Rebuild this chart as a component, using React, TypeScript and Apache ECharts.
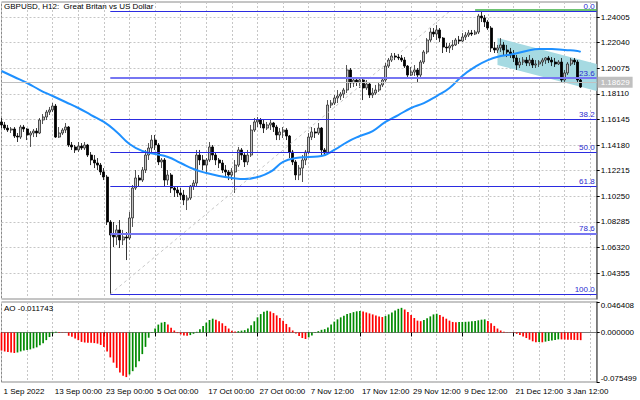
import React, { useEffect, useRef } from "react";
import * as echarts from "echarts";

const chartTitle = "GBPUSD, H12:  Great Britan vs US Dollar";
const aoTitle = "AO -0.011743";

const opens = [1.1595,1.1572,1.1548,1.1533,1.1541,1.1487,1.1479,1.1556,1.1541,1.1495,
1.1510,1.1525,1.1510,1.1610,1.1633,1.1671,1.1687,1.1717,1.1479,1.1510,
1.1533,1.1556,1.1418,1.1403,1.1380,1.1410,1.1395,1.1418,1.1341,1.1303,
1.1280,1.1264,1.1211,1.1172,1.0827,1.0727,1.0712,1.0766,1.0689,1.0712,
1.0704,1.0858,1.1088,1.1165,1.1149,1.1226,1.1341,1.1395,1.1456,1.1418,
1.1288,1.1303,1.1149,1.1188,1.1088,1.1073,1.1050,1.1034,1.0996,1.1011,
1.1103,1.1126,1.1341,1.1303,1.1264,1.1303,1.1403,1.1341,1.1303,1.1280,
1.1226,1.1211,1.1188,1.1211,1.1264,1.1380,1.1341,1.1288,1.1341,1.1533,
1.1595,1.1610,1.1579,1.1548,1.1572,1.1587,1.1556,1.1495,1.1518,1.1533,
1.1487,1.1364,1.1288,1.1188,1.1241,1.1303,1.1364,1.1479,1.1518,1.1510,
1.1548,1.1380,1.1357,1.1725,1.1740,1.1779,1.1794,1.1809,1.1840,1.1994,
1.1894,1.1917,1.1902,1.1917,1.1856,1.1886,1.1802,1.1817,1.1840,1.1879,
1.1917,1.2024,1.2070,1.2101,1.2093,1.2086,1.2070,1.2024,1.1955,1.1978,
1.1994,1.1955,1.2055,1.2132,1.2224,1.2285,1.2270,1.2301,1.2239,1.2170,
1.2163,1.2178,1.2186,1.2224,1.2216,1.2247,1.2262,1.2278,1.2270,1.2285,
1.2408,1.2393,1.2362,1.2316,1.2163,1.2147,1.2163,1.2186,1.2147,1.2132,
1.2109,1.2086,1.2032,1.2055,1.2070,1.2047,1.2070,1.2032,1.2040,1.2055,
1.2070,1.2086,1.2070,1.2055,1.2040,1.2055,1.1917,1.1971,1.2040,1.2070,
1.2055,1.1917];

const closes = [1.1572,1.1548,1.1533,1.1541,1.1487,1.1479,1.1556,1.1541,1.1495,1.1510,
1.1525,1.1510,1.1610,1.1633,1.1671,1.1687,1.1717,1.1479,1.1510,1.1533,
1.1556,1.1418,1.1403,1.1380,1.1410,1.1395,1.1418,1.1341,1.1303,1.1280,
1.1264,1.1211,1.1172,1.0827,1.0727,1.0712,1.0766,1.0689,1.0712,1.0704,
1.0858,1.1088,1.1165,1.1149,1.1226,1.1341,1.1395,1.1456,1.1418,1.1288,
1.1303,1.1149,1.1188,1.1088,1.1073,1.1050,1.1034,1.0996,1.1011,1.1103,
1.1126,1.1341,1.1303,1.1264,1.1303,1.1403,1.1341,1.1303,1.1280,1.1226,
1.1211,1.1188,1.1211,1.1264,1.1380,1.1341,1.1288,1.1341,1.1533,1.1595,
1.1610,1.1579,1.1548,1.1572,1.1587,1.1556,1.1495,1.1518,1.1533,1.1487,
1.1364,1.1288,1.1188,1.1241,1.1303,1.1364,1.1479,1.1518,1.1510,1.1548,
1.1380,1.1357,1.1725,1.1740,1.1779,1.1794,1.1809,1.1840,1.1994,1.1894,
1.1917,1.1902,1.1917,1.1856,1.1886,1.1802,1.1817,1.1840,1.1879,1.1917,
1.2024,1.2070,1.2101,1.2093,1.2086,1.2070,1.2024,1.1955,1.1978,1.1994,
1.1955,1.2055,1.2132,1.2224,1.2285,1.2270,1.2301,1.2239,1.2170,1.2163,
1.2178,1.2186,1.2224,1.2216,1.2247,1.2262,1.2278,1.2270,1.2285,1.2408,
1.2393,1.2362,1.2316,1.2163,1.2147,1.2163,1.2186,1.2147,1.2132,1.2109,
1.2086,1.2032,1.2055,1.2070,1.2047,1.2070,1.2032,1.2040,1.2055,1.2070,
1.2086,1.2070,1.2055,1.2040,1.2055,1.1917,1.1971,1.2040,1.2070,1.2055,
1.1917,1.1863];

const highs = [1.1625,1.1595,1.1572,1.1556,1.1556,1.1510,1.1572,1.1572,1.1548,1.1525,
1.1541,1.1548,1.1625,1.1656,1.1687,1.1710,1.1740,1.1733,1.1556,1.1548,
1.1587,1.1564,1.1441,1.1418,1.1441,1.1433,1.1441,1.1426,1.1364,1.1341,
1.1318,1.1280,1.1241,1.1188,1.0842,1.0827,1.0804,1.0842,1.0766,1.0750,
1.0904,1.1111,1.1226,1.1188,1.1249,1.1380,1.1433,1.1495,1.1495,1.1433,
1.1318,1.1318,1.1226,1.1203,1.1103,1.1096,1.1088,1.1073,1.1034,1.1111,
1.1149,1.1380,1.1380,1.1341,1.1318,1.1441,1.1418,1.1357,1.1318,1.1303,
1.1264,1.1226,1.1241,1.1303,1.1403,1.1395,1.1357,1.1380,1.1572,1.1625,
1.1633,1.1625,1.1610,1.1595,1.1610,1.1595,1.1572,1.1548,1.1556,1.1548,
1.1495,1.1380,1.1303,1.1264,1.1341,1.1380,1.1510,1.1556,1.1548,1.1587,
1.1556,1.1395,1.1763,1.1763,1.1802,1.1840,1.1825,1.1856,1.2032,1.2009,
1.1940,1.1932,1.1940,1.1932,1.1917,1.1894,1.1856,1.1879,1.1902,1.1940,
1.2047,1.2086,1.2124,1.2124,1.2116,1.2109,1.2093,1.2032,1.2017,1.2032,
1.2009,1.2070,1.2147,1.2239,1.2316,1.2316,1.2339,1.2316,1.2247,1.2201,
1.2201,1.2224,1.2239,1.2255,1.2278,1.2285,1.2301,1.2301,1.2301,1.2424,
1.2447,1.2416,1.2377,1.2331,1.2209,1.2186,1.2239,1.2209,1.2186,1.2163,
1.2147,1.2109,1.2086,1.2093,1.2093,1.2109,1.2086,1.2070,1.2070,1.2086,
1.2093,1.2101,1.2093,1.2086,1.2070,1.2086,1.1994,1.2055,1.2086,1.2086,
1.2070,1.1925];

const lows = [1.1548,1.1533,1.1518,1.1510,1.1472,1.1441,1.1464,1.1518,1.1456,1.1403,
1.1479,1.1479,1.1502,1.1579,1.1610,1.1648,1.1671,1.1472,1.1472,1.1495,
1.1510,1.1403,1.1380,1.1357,1.1364,1.1380,1.1380,1.1326,1.1264,1.1241,
1.1226,1.1188,1.1149,1.0804,1.0274,1.0635,1.0650,1.0627,1.0650,1.0535,
1.0689,1.0789,1.1073,1.1096,1.1134,1.1203,1.1303,1.1357,1.1380,1.1264,
1.1241,1.1096,1.1111,1.1050,1.1019,1.1019,1.0996,1.0957,1.0919,1.0996,
1.1073,1.1096,1.1264,1.1226,1.1211,1.1288,1.1303,1.1264,1.1241,1.1203,
1.1172,1.1149,1.1149,1.1050,1.1249,1.1303,1.1249,1.1264,1.1326,1.1518,
1.1556,1.1548,1.1510,1.1533,1.1533,1.1518,1.1456,1.1456,1.1472,1.1456,
1.1318,1.1264,1.1149,1.1149,1.1134,1.1264,1.1349,1.1456,1.1472,1.1495,
1.1326,1.1334,1.1341,1.1702,1.1725,1.1740,1.1763,1.1779,1.1817,1.1856,
1.1863,1.1871,1.1856,1.1763,1.1840,1.1779,1.1779,1.1802,1.1825,1.1863,
1.1902,1.2009,1.2055,1.2070,1.2070,1.2055,1.2009,1.1940,1.1948,1.1948,
1.1902,1.1940,1.2040,1.2116,1.2209,1.2247,1.2224,1.2209,1.2124,1.2132,
1.2124,1.2147,1.2178,1.2193,1.2209,1.2224,1.2247,1.2255,1.2262,1.2270,
1.2362,1.2324,1.2301,1.2132,1.2124,1.2124,1.2132,1.2109,1.2093,1.2086,
1.2055,1.1994,1.2009,1.2032,1.2024,1.2024,1.2009,1.2009,1.2017,1.2024,
1.2040,1.2047,1.2024,1.2017,1.2032,1.1902,1.1902,1.1955,1.2024,1.2032,
1.1894,1.1856];

const maIndex = [0,4,8,12,16,20,24,28,32,36,40,44,48,52,56,60,64,68,72,76,80,84,88,92,96,100,104,108,112,116,120,124,128,132,136,140,144,148,152,156,160,164,168,172,176,180,181];
const maValues = [1.1986,1.1940,1.1894,1.1840,1.1794,1.1748,1.1702,1.1648,1.1595,1.1518,1.1426,1.1372,1.1349,1.1326,1.1280,1.1234,1.1203,1.1180,1.1165,1.1157,1.1172,1.1211,1.1288,1.1318,1.1326,1.1334,1.1380,1.1441,1.1487,1.1525,1.1595,1.1648,1.1702,1.1740,1.1794,1.1856,1.1948,1.2017,1.2070,1.2101,1.2116,1.2140,1.2155,1.2155,1.2147,1.2140,1.2132];

const aoValues = [-0.0274,-0.0289,-0.0297,-0.0305,-0.0313,-0.0305,-0.0289,-0.0274,-0.0266,-0.0258,
-0.0242,-0.0227,-0.0195,-0.0164,-0.0117,-0.0070,-0.0016,0.0010,0.0008,0.0004,
-0.0003,-0.0050,-0.0066,-0.0091,-0.0117,-0.0144,-0.0153,-0.0155,-0.0158,-0.0162,
-0.0170,-0.0190,-0.0220,-0.0290,-0.0380,-0.0460,-0.0540,-0.0610,-0.0660,-0.0680,
-0.0640,-0.0590,-0.0530,-0.0440,-0.0330,-0.0220,-0.0080,-0.0010,0.0060,0.0120,
0.0150,0.0160,0.0120,0.0070,0.0030,-0.0010,-0.0030,-0.0045,-0.0052,-0.0040,
-0.0020,0.0010,0.0050,0.0100,0.0150,0.0190,0.0210,0.0195,0.0170,0.0140,
0.0100,0.0060,0.0025,0.0015,0.0020,0.0028,0.0035,0.0060,0.0110,0.0170,
0.0230,0.0280,0.0315,0.0330,0.0320,0.0295,0.0260,0.0220,0.0180,0.0130,
0.0080,0.0030,-0.0015,-0.0055,-0.0085,-0.0100,-0.0075,-0.0045,-0.0010,0.0020,
0.0040,0.0050,0.0075,0.0120,0.0165,0.0200,0.0230,0.0255,0.0280,0.0295,
0.0310,0.0322,0.0328,0.0318,0.0305,0.0290,0.0275,0.0260,0.0245,0.0235,
0.0250,0.0275,0.0305,0.0335,0.0360,0.0375,0.0350,0.0310,0.0265,0.0220,
0.0180,0.0172,0.0190,0.0215,0.0245,0.0275,0.0285,0.0265,0.0240,0.0210,
0.0180,0.0160,0.0155,0.0158,0.0160,0.0162,0.0165,0.0170,0.0175,0.0185,
0.0195,0.0200,0.0175,0.0140,0.0100,0.0060,0.0030,0.0010,0.0005,0.0003,
-0.0005,-0.0020,-0.0040,-0.0060,-0.0085,-0.0110,-0.0135,-0.0150,-0.0145,-0.0150,
-0.0140,-0.0130,-0.0122,-0.0115,-0.0105,-0.0106,-0.0108,-0.0110,-0.0112,-0.0114,
-0.0116,-0.011743];

const xTickIndex = [0, 16, 32, 48, 64, 80, 96, 112, 128, 144, 160, 176];
const xTickLabels = ["1 Sep 2022", "13 Sep 00:00", "23 Sep 00:00", "5 Oct 00:00", "17 Oct 00:00", "27 Oct 00:00", "7 Nov 12:00", "17 Nov 12:00", "29 Nov 12:00", "9 Dec 12:00", "21 Dec 12:00", "3 Jan 12:00"];
const gridEvery = 8;

const priceTicks = [1.04355, 1.0632, 1.08285, 1.1025, 1.12215, 1.1418, 1.16145, 1.1811, 1.20075, 1.2204, 1.24005];
const priceMin = 1.0236;
const priceMax = 1.25157;
const aoTicks = [-0.075499, 0, 0.046408];
const aoMin = -0.075499;
const aoMax = 0.046408;
const lastPrice = 1.18629;

const fibLevels = [0, 23.6, 38.2, 50, 61.8, 78.6, 100];
const fibHigh = 1.2444;
const fibLow = 1.0274;
const fibStartBar = 34;
const fibHighBar = 140;
const highLinePrice = 1.2454;
const highLineStartBar = 148;
const channelTop = [[155, 1.2239], [186, 1.2040]];
const channelBottom = [[155, 1.2032], [186, 1.1832]];
const barSlots = 187;

const FONT = "'Liberation Sans', Arial, sans-serif";
const FS = 8;

export default function App() {
  const ref = useRef<HTMLDivElement>(null);
  useEffect(() => {
    if (!ref.current) return;
    const chart = echarts.init(ref.current, undefined, { renderer: "svg" });
    const cats = Array.from({ length: barSlots }, (_, i) => String(i));
    const tickMap = new Map<number, string>();
    xTickIndex.forEach((ix, k) => tickMap.set(ix, xTickLabels[k]));
    const gridLine = { color: "#c6c6c6", type: [2, 2] as any, width: 1 };
    const candleData = opens.map((o, i) => [o, closes[i], lows[i], highs[i]]);
    const maData: (number | null)[] = new Array(barSlots).fill(null);
    maIndex.forEach((ix, k) => { maData[ix] = maValues[k]; });
    const aoData = aoValues.map((v, i) => ({
      value: v,
      itemStyle: { color: i > 0 && v > aoValues[i - 1] ? "#008a00" : "#ff0000" },
    }));
    const fibLines = fibLevels.map((r) => {
      const p = fibHigh - (r / 100) * (fibHigh - fibLow);
      const light = r === 23.6 || r === 78.6;
      return [
        {
          coord: [fibStartBar, p],
          lineStyle: { color: light ? "#7676f2" : "#2b2be0", width: light ? 1.8 : 1.2, type: "solid" },
          label: { show: true, position: "insideEndTop", formatter: r.toFixed(1), color: "#2a2ad0", fontSize: FS, fontFamily: FONT, distance: [2, 1] },
        },
        { coord: [barSlots - 1, p] },
      ];
    });
    const option: any = {
      animation: false,
      backgroundColor: "#ffffff",
      textStyle: { fontFamily: FONT },
      grid: [
        { left: 1.5, width: 595.2, top: 2, height: 297, show: true, borderColor: "#8a8a8a", borderWidth: 1 },
        { left: 1.5, width: 595.2, top: 302, height: 80, show: true, borderColor: "#8a8a8a", borderWidth: 1 },
      ],
      xAxis: [
        {
          type: "category", gridIndex: 0, data: cats, boundaryGap: false,
          axisLine: { show: false }, axisTick: { show: false }, axisLabel: { show: false },
          splitLine: { show: true, interval: (i: number) => i % gridEvery === 0, lineStyle: gridLine },
        },
        {
          type: "category", gridIndex: 1, data: cats, boundaryGap: false,
          axisLine: { show: true, lineStyle: { color: "#7a7a7a" } },
          axisTick: { show: true, interval: (i: number) => tickMap.has(i), length: 4, lineStyle: { color: "#000" } },
          axisLabel: {
            show: true, interval: (i: number) => tickMap.has(i),
            formatter: (v: string) => tickMap.get(Number(v)) || "",
            align: "left", padding: [0, 0, 0, 2], fontSize: FS, color: "#000", margin: 5, fontFamily: FONT,
            showMaxLabel: true, showMinLabel: true, hideOverlap: false,
          },
          splitLine: { show: true, interval: (i: number) => i % gridEvery === 0, lineStyle: gridLine },
        },
      ],
      yAxis: [
        {
          type: "value", gridIndex: 0, position: "right", min: priceMin, max: priceMax,
          axisLine: { show: true, lineStyle: { color: "#6a6a6a", width: 1.5 } },
          axisTick: { show: true, length: 3, customValues: priceTicks, lineStyle: { color: "#000" } },
          axisLabel: { customValues: priceTicks, formatter: (v: number) => v.toFixed(5), fontSize: FS, color: "#000", margin: 4, fontFamily: FONT },
          splitLine: { show: true, lineStyle: gridLine },
        },
        {
          type: "value", gridIndex: 1, position: "right", min: aoMin, max: aoMax,
          axisLine: { show: true, lineStyle: { color: "#6a6a6a", width: 1.5 } },
          axisTick: { show: true, length: 3, customValues: aoTicks, lineStyle: { color: "#000" } },
          axisLabel: {
            customValues: aoTicks,
            formatter: (v: number) => {
              const s = v.toFixed(6);
              if (v === aoMax) return `{t|${s}}`;
              if (v === aoMin) return `{b|${s}}`;
              return s;
            },
            rich: {
              t: { padding: [7, 0, 0, 0], fontSize: FS, fontFamily: FONT, color: "#000" },
              b: { padding: [0, 0, 7, 0], fontSize: FS, fontFamily: FONT, color: "#000" },
            },
            fontSize: FS, color: "#000", margin: 4, fontFamily: FONT,
          },
          splitLine: { show: true, lineStyle: gridLine },
        },
      ],
      series: [
        {
          type: "custom", name: "channel", xAxisIndex: 0, yAxisIndex: 0, z: 1, silent: true,
          data: [channelTop[0]],
          renderItem: (_p: any, api: any) => {
            const pts = [channelTop[0], channelTop[1], channelBottom[1], channelBottom[0]].map((q) => api.coord(q));
            return { type: "polygon", shape: { points: pts }, style: { fill: "#a6dae2" } };
          },
        },
        {
          type: "candlestick", name: "GBPUSD", xAxisIndex: 0, yAxisIndex: 0, z: 3,
          data: candleData, barWidth: 2.4,
          itemStyle: { color: "#c4c4c4", color0: "#000000", borderColor: "#2a2a2a", borderColor0: "#000000", borderWidth: 0.8 },
          markLine: {
            silent: true, symbol: ["none", "none"], animation: false,
            data: [
              {
                yAxis: lastPrice,
                lineStyle: { color: "#c0c0c0", width: 1, type: "solid" },
                label: { show: true, position: "end", formatter: lastPrice.toFixed(5), backgroundColor: "#c0c0c0", color: "#ffffff", padding: [2, 3, 1, 3], fontSize: FS, fontFamily: FONT, distance: 1 },
              },
              [
                { coord: [fibStartBar, fibLow], lineStyle: { color: "#c8c8c8", width: 1, type: [3, 3] }, label: { show: false } },
                { coord: [fibHighBar, fibHigh] },
              ],
              ...fibLines,
              [
                { coord: [highLineStartBar, highLinePrice], lineStyle: { color: "#3cb043", width: 1.5, type: "solid" }, label: { show: false } },
                { coord: [barSlots - 1, highLinePrice] },
              ],
            ],
          },
        },
        {
          type: "line", name: "MA", xAxisIndex: 0, yAxisIndex: 0, z: 4,
          data: maData, connectNulls: true, smooth: true, showSymbol: false, symbol: "none",
          lineStyle: { color: "#1e90ff", width: 2 },
        },
        {
          type: "bar", name: "AO", xAxisIndex: 1, yAxisIndex: 1,
          data: aoData, barWidth: 1.7,
        },
      ],
      graphic: [
        { type: "text", left: 4, top: 2, z: 10, style: { text: chartTitle, fontSize: FS, fontFamily: FONT, fill: "#000" } },
        { type: "text", left: 4, top: 304, z: 10, style: { text: aoTitle, fontSize: FS, fontFamily: FONT, fill: "#000" } },
      ],
    };
    chart.setOption(option);
    return () => chart.dispose();
  }, []);
  return <div ref={ref} style={{ position: "absolute", left: 0, top: 0, width: 640, height: 400, background: "#fff" }} />;
}
